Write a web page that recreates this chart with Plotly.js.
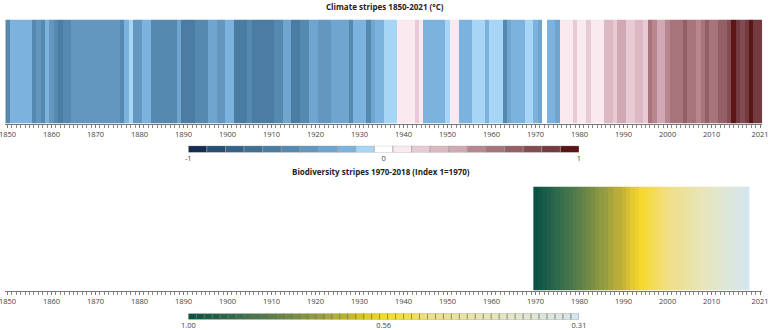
<!DOCTYPE html>
<html>
<head>
<meta charset="utf-8">
<script src="https://cdn.plot.ly/plotly-3.0.1.min.js"></script>
<style>html,body{margin:0;padding:0;background:#fff}#chart{width:768px;height:330px}</style>
</head>
<body>
<div id="chart"></div>
<script>
// ---- Data ----
const climateYears = Array.from({length: 172}, (_, i) => 1850 + i);
const climateValues = [
  -0.48,-0.19,-0.19,-0.19,-0.19,-0.19,-0.48,-0.38,-0.48,-0.19, // 1850-1859
  -0.38,-0.48,-0.57,-0.48,-0.48,-0.38,-0.38,-0.38,-0.38,-0.38, // 1860-1869
  -0.38,-0.38,-0.38,-0.38,-0.38,-0.38,-0.48,-0.19,-0.10,-0.38, // 1870-1879
  -0.38,-0.19,-0.19,-0.48,-0.48,-0.48,-0.48,-0.48,-0.48,-0.29, // 1880-1889
  -0.57,-0.57,-0.57,-0.48,-0.48,-0.48,-0.29,-0.29,-0.38,-0.38, // 1890-1899
  -0.19,-0.19,-0.57,-0.57,-0.57,-0.48,-0.57,-0.57,-0.57,-0.57, // 1900-1909
  -0.57,-0.48,-0.48,-0.29,-0.29,-0.57,-0.57,-0.48,-0.48,-0.29, // 1910-1919
  -0.29,-0.38,-0.38,-0.38,-0.29,-0.29,-0.29,-0.29,-0.48,-0.19, // 1920-1929
  -0.19,-0.19,-0.48,-0.29,-0.19,-0.19,-0.10,-0.10,-0.10, 0.10, // 1930-1939
   0.10, 0.10, 0.10, 0.19, 0.10,-0.19,-0.19,-0.19,-0.19,-0.19, // 1940-1949
  -0.10, 0.10, 0.10,-0.19,-0.19,-0.19,-0.10,-0.10,-0.10,-0.19, // 1950-1959
  -0.10,-0.10,-0.10,-0.48,-0.29,-0.19,-0.19,-0.19,-0.10,-0.10, // 1960-1969
  -0.19,-0.29, 0.00,-0.19,-0.19,-0.29, 0.10, 0.10, 0.10, 0.19, // 1970-1979
   0.10, 0.10, 0.19, 0.10, 0.10, 0.10, 0.29, 0.29, 0.19, 0.38, // 1980-1989
   0.38, 0.19, 0.19, 0.29, 0.29, 0.19, 0.57, 0.48, 0.38, 0.38, // 1990-1999
   0.48, 0.57, 0.57, 0.57, 0.67, 0.57, 0.57, 0.48, 0.57, 0.67, // 2000-2009
   0.57, 0.57, 0.67, 0.67, 0.76, 0.95, 0.86, 0.76, 0.86, 0.95, // 2010-2019
   0.86, 0.86                                                  // 2020-2021
];
const climateColors = [
  '#132f4f','#254f74','#346389','#416f94','#4b7da3','#5689b0','#6397c0',
  '#6fa5cf','#7cb3de','#a6d5f5','#ffffff','#fbe9f0','#e8cad4','#dcb8c3',
  '#d0a9b4','#b7868f','#a7747c','#955f66','#834c52','#733a3f','#5c1515'
];
const climateTickVals = [1850,1860,1870,1880,1890,1900,1910,1920,1930,1940,1950,1960,1970,1980,1990,2000,2010,2021];
const climateBarLabels = ['-1','0','1'];

const bioYears = Array.from({length: 49}, (_, i) => 1970 + i);
const bioValues = [
  1.00,0.98,0.96,0.94,0.92,0.90,0.88,0.86,0.85,0.83,
  0.81,0.79,0.77,0.75,0.73,0.71,0.70,0.68,0.66,0.65,
  0.63,0.61,0.59,0.58,0.56,0.55,0.54,0.53,0.52,0.51,
  0.50,0.49,0.48,0.47,0.46,0.45,0.44,0.43,0.42,0.41,
  0.40,0.39,0.38,0.37,0.36,0.35,0.34,0.33,0.31
];
const bioBarLabels = ['1.00','0.56','0.31'];

// ---- Scales ----
const nBins = climateColors.length;
const climateScale = [];
climateColors.forEach((c, k) => {
  climateScale.push([k / nBins, c]);
  climateScale.push([(k + 1) / nBins, c]);
});
const bioMin = 0.31, bioMax = 1.00;
const nrm = v => (v - bioMin) / (bioMax - bioMin);
const bioScale = [
  [0, '#d3e6f2'],
  [nrm(0.40), '#e4e6c6'],
  [nrm(0.50), '#f1df86'],
  [nrm(0.56), '#f7d92c'],
  [nrm(0.63), '#c9b535'],
  [nrm(0.71), '#909a42'],
  [nrm(0.81), '#5a7f48'],
  [nrm(0.90), '#2f6a4c'],
  [1, '#0a5246']
];

const binW = 2 / nBins;
const binCenters = climateColors.map((c, k) => -1 + (k + 0.5) * binW);

const FONT = 'Open Sans, Noto Sans, sans-serif';
const W = 768, H = 330;
const px = v => v / W, py = v => 1 - v / H;

const traces = [
  {type: 'heatmap', x: climateYears, y: [0], z: [climateValues],
   colorscale: climateScale, zmin: -1, zmax: 1, showscale: false,
   xaxis: 'x', yaxis: 'y', hoverinfo: 'x+z'},
  {type: 'heatmap', x: bioYears, y: [0], z: [bioValues],
   colorscale: bioScale, zmin: bioMin, zmax: bioMax, showscale: false,
   xaxis: 'x2', yaxis: 'y2', hoverinfo: 'x+z'},
  {type: 'bar', x: binCenters, y: binCenters.map(() => 1), width: binW,
   marker: {color: binCenters, colorscale: climateScale, cmin: -1, cmax: 1,
            line: {color: '#9a9a9a', width: 0.6}},
   xaxis: 'x3', yaxis: 'y3', hoverinfo: 'skip', showlegend: false},
  {type: 'bar', x: bioValues.map((v, i) => i), y: bioValues.map(() => 1), width: 1,
   marker: {color: bioValues, colorscale: bioScale, cmin: bioMin, cmax: bioMax,
            line: {color: '#6f6f5a', width: 0.6}},
   xaxis: 'x4', yaxis: 'y4', hoverinfo: 'skip', showlegend: false}
];

const yearAxis = (anchor) => ({
  domain: [px(5.3), px(762.2)], range: [1849.5, 2021.5], anchor: anchor,
  tickmode: 'array', tickvals: climateTickVals, ticktext: climateTickVals.map(String),
  ticks: 'outside', ticklen: 3, tickwidth: 1, tickcolor: '#777',
  minor: {dtick: 1, tick0: 1850, ticks: 'outside', ticklen: 3, tickwidth: 1, tickcolor: '#888'},
  showline: true, linecolor: '#777', linewidth: 1,
  showgrid: false, zeroline: false, ticklabeloverflow: 'allow',
  tickfont: {family: FONT, size: 7.5, color: '#444'}, fixedrange: true
});

const layout = {
  width: W, height: H,
  margin: {l: 0, r: 0, t: 0, b: 0},
  paper_bgcolor: '#fff', plot_bgcolor: '#fff',
  showlegend: false, bargap: 0,
  font: {family: FONT, color: '#333'},
  xaxis: yearAxis('y'),
  yaxis: {domain: [py(123.5), py(19.5)], range: [-0.5, 0.5], visible: false, fixedrange: true},
  xaxis2: yearAxis('y2'),
  yaxis2: {domain: [py(290.5), py(186.5)], range: [-0.5, 0.5], visible: false, fixedrange: true},
  xaxis3: {domain: [px(188.3), px(579)], range: [-1, 1], anchor: 'y3',
           tickmode: 'array', tickvals: [-1, 0, 1], ticktext: climateBarLabels,
           ticks: '', showline: false, showgrid: false, zeroline: false,
           tickfont: {family: FONT, size: 7.5, color: '#444'}, fixedrange: true},
  yaxis3: {domain: [py(152.5), py(145.7)], range: [0, 1], visible: false, fixedrange: true},
  xaxis4: {domain: [px(188.3), px(579)], range: [-0.5, 48.5], anchor: 'y4',
           tickmode: 'array', tickvals: [-0.5, 24, 48.5], ticktext: bioBarLabels,
           ticks: '', showline: false, showgrid: false, zeroline: false,
           tickfont: {family: FONT, size: 7.5, color: '#444'}, fixedrange: true},
  yaxis4: {domain: [py(319.5), py(313.5)], range: [0, 1], visible: false, fixedrange: true},
  annotations: [
    {text: '<b>Climate stripes 1850-2021 (°C)</b>', xref: 'paper', yref: 'paper',
     x: px(385), y: py(6.5), xanchor: 'center', yanchor: 'middle', showarrow: false,
     font: {family: FONT, size: 8, color: '#222'}},
    {text: '<b>Biodiversity stripes 1970-2018 (Index 1=1970)</b>', xref: 'paper', yref: 'paper',
     x: px(381), y: py(171), xanchor: 'center', yanchor: 'middle', showarrow: false,
     font: {family: FONT, size: 8, color: '#222'}}
  ]
};

Plotly.newPlot('chart', traces, layout, {displayModeBar: false, staticPlot: true});
</script>
</body>
</html>
